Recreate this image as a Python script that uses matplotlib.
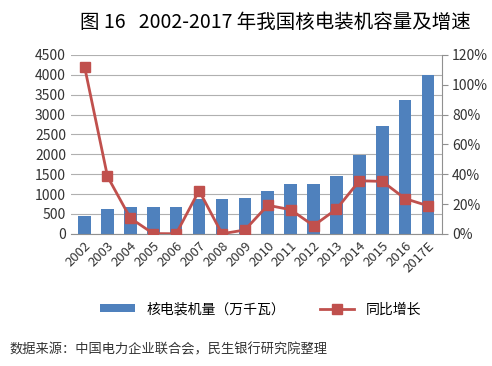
import matplotlib
matplotlib.use("Agg")
import matplotlib.pyplot as plt
from matplotlib.ticker import PercentFormatter

plt.rcParams['font.family'] = ['Noto Sans CJK SC', 'DejaVu Sans']

# --- DATA ---
years = ['2002', '2003', '2004', '2005', '2006', '2007', '2008', '2009',
         '2010', '2011', '2012', '2013', '2014', '2015', '2016', '2017E']
capacity = [447, 619, 684, 685, 685, 885, 885, 908,
            1082, 1257, 1257, 1466, 1988, 2717, 3364, 4000]
growth = [112, 38.5, 10.5, 0.2, 0.1, 29, 0.1, 2.6,
          19.2, 16.2, 5.5, 16.6, 35.6, 35.2, 23.6, 18.8]

bar_color = '#4F81BD'
line_color = '#C0504D'

fig = plt.figure(figsize=(4.92, 3.66), dpi=100)
ax = fig.add_axes([0.144, 0.361, 0.754, 0.489])
ax2 = ax.twinx()

x = range(len(years))
ax.bar(x, capacity, width=0.55, color=bar_color, label='核电装机量（万千瓦）', zorder=2)
ax2.plot(x, growth, color=line_color, linewidth=2, marker='s', markersize=6.5,
         label='同比增长', zorder=3)

ax.set_ylim(0, 4500)
ax.set_yticks(range(0, 4501, 500))
ax2.set_ylim(0, 120)
ax2.set_yticks(range(0, 121, 20))
ax2.yaxis.set_major_formatter(PercentFormatter(decimals=0))
ax.set_xlim(-0.6, len(years) - 0.4)

# grid + spines
ax.grid(axis='y', color='#B0B0B0', linewidth=0.8, zorder=0)
ax.set_axisbelow(True)
for s in ['top', 'left', 'right']:
    ax.spines[s].set_visible(False)
for s in ['top', 'left']:
    ax2.spines[s].set_visible(False)
ax2.spines['right'].set_color('#909090')
ax2.spines['bottom'].set_visible(False)
ax.spines['bottom'].set_color('#909090')

ax.set_xticks(list(x))
ax.set_xticklabels(years, rotation=45, ha='right', rotation_mode='anchor', fontsize=9.5)
ax.tick_params(axis='x', length=0, pad=4, colors='#333333')
ax.tick_params(axis='y', length=0, labelsize=10, colors='#333333')
ax2.tick_params(axis='y', length=4, labelsize=10, colors='#909090', labelcolor='#333333')

fig.text(0.56, 0.94, '图 16   2002-2017 年我国核电装机容量及增速', ha='center', va='center',
         fontsize=14)

h1, l1 = ax.get_legend_handles_labels()
h2, l2 = ax2.get_legend_handles_labels()
fig.legend(h1 + h2, l1 + l2, loc='center', bbox_to_anchor=(0.53, 0.155), ncol=2,
           frameon=False, fontsize=10, handlelength=2.5, handleheight=0.5, columnspacing=2.5)

fig.text(0.02, 0.045, '数据来源：中国电力企业联合会，民生银行研究院整理', ha='left', va='center',
         fontsize=9.5, color='#333333')

fig.savefig('out.png', dpi=100)
